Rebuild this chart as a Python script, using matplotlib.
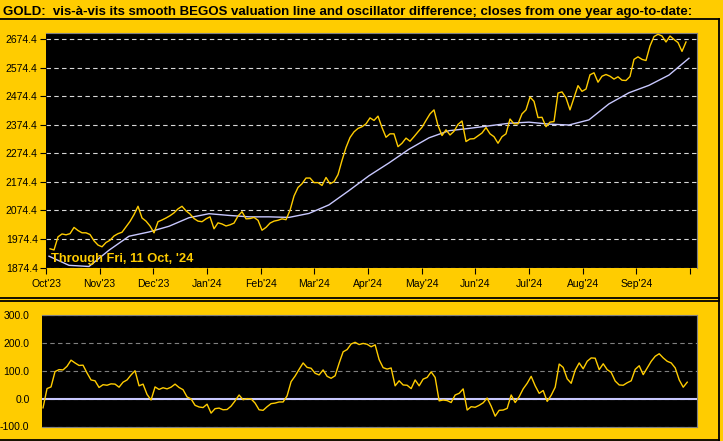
import numpy as np
import matplotlib.pyplot as plt
from matplotlib import font_manager
from matplotlib.lines import Line2D

plt.rcParams.update({'font.family': ['Liberation Sans', 'DejaVu Sans']})

months = ["Oct'23", "Nov'23", "Dec'23", "Jan'24", "Feb'24", "Mar'24", "Apr'24",
          "May'24", "Jun'24", "Jul'24", "Aug'24", "Sep'24", ""]

# gold closes (roughly every couple of sessions)
gold = [1940, 1936, 1982, 1992, 1989, 1993, 2015, 2004, 1996, 1996,
        1990, 1968, 1953, 1947, 1962, 1970, 1985, 1993, 1998, 2017,
        2036, 2060, 2089, 2048, 2037, 2020, 1996, 2035, 2041, 2048,
        2056, 2066, 2080, 2089, 2073, 2062, 2046, 2037, 2035, 2045,
        2052, 2010, 2031, 2027, 2020, 2024, 2030, 2055, 2070, 2045,
        2046, 2050, 2040, 2005, 2015, 2030, 2037, 2040, 2045, 2042,
        2075, 2125, 2155, 2168, 2188, 2188, 2172, 2172, 2162, 2190,
        2168, 2175, 2200, 2250, 2295, 2330, 2350, 2362, 2368, 2378,
        2399, 2390, 2405, 2365, 2331, 2343, 2343, 2298, 2310, 2328,
        2317, 2333, 2350, 2366, 2390, 2413, 2427, 2372, 2337, 2357,
        2339, 2352, 2376, 2388, 2316, 2325, 2326, 2336, 2346, 2365,
        2343, 2333, 2310, 2333, 2343, 2395, 2378, 2378, 2413, 2427,
        2472, 2457, 2400, 2401, 2368, 2384, 2386, 2486, 2490, 2469,
        2427, 2469, 2512, 2492, 2500, 2550, 2557, 2524, 2545, 2551,
        2545, 2535, 2543, 2531, 2530, 2544, 2604, 2613, 2604, 2600,
        2651, 2684, 2692, 2686, 2665, 2686, 2674, 2663, 2632, 2665]

# smooth BEGOS valuation line
begos = [1914, 1882, 1878, 1935, 1984, 1999, 2019, 2049, 2063, 2057,
         2052, 2052, 2050, 2064, 2094, 2144, 2196, 2241, 2289, 2329,
         2354, 2362, 2371, 2380, 2384, 2377, 2374, 2392, 2448, 2487,
         2513, 2549, 2608]

# oscillator (price minus valuation)
osc = [-33, 36, 42, 97, 104, 103, 116, 138, 128, 119,
       120, 92, 67, 64, 40, 50, 48, 53, 52, 41,
       59, 67, 85, 100, 46, 52, 15, -5, 42, 33,
       39, 35, 41, 52, 40, 32, 6, -1, -24, -30,
       -32, -20, -52, -36, -34, -40, -39, -27, -8, 13,
       -4, 0, -1, -16, -40, -42, -29, -18, -16, -12,
       -12, 10, 61, 81, 105, 128, 112, 109, 91, 85,
       103, 80, 73, 82, 127, 168, 176, 196, 202, 194,
       198, 195, 186, 193, 140, 111, 106, 110, 46, 64,
       49, 48, 36, 67, 46, 70, 76, 96, 76, -8,
       -5, -7, -14, 13, 19, 35, -41, -29, -31, -24,
       -15, 2, -27, -63, -42, -41, -35, 13, -14, 7,
       35, 55, 80, 46, 19, 29, -10, 12, 41, 124,
       112, 71, 55, 102, 128, 107, 134, 146, 145, 104,
       125, 104, 94, 63, 49, 48, 57, 64, 105, 118,
       86, 110, 134, 152, 161, 146, 134, 128, 110, 67,
       41, 59]

price_ticks = [1874.4, 1974.4, 2074.4, 2174.4, 2274.4, 2374.4, 2474.4, 2574.4, 2674.4]
osc_ticks = [-100, 0, 100, 200, 300]

YELLOW = '#FFCC00'
LAVENDER = '#C8C8FF'
W, H = 723, 441

# a narrow face if one is installed, otherwise a smaller regular one
narrow = dict(family=['Liberation Sans', 'DejaVu Sans'], size=9.3, title=9.55)
for f in font_manager.fontManager.ttflist:
    if f.name == 'Liberation Sans Narrow':
        narrow = dict(family=['Liberation Sans Narrow', 'DejaVu Sans'], size=11, title=11)
        break

fig = plt.figure(figsize=(W / 100, H / 100), dpi=100, facecolor=YELLOW)


def px_axes(x0, y0, x1, y1):
    return fig.add_axes([x0 / W, 1 - y1 / H, (x1 - x0) / W, (y1 - y0) / H])


# ---- price panel
ax = px_axes(46, 33, 697, 267.5)
ax.set_facecolor('black')
ax.set_xlim(0, 12.13)
ax.set_ylim(1874.4, 2696.5)

gx = np.linspace(0.075, 11.925, len(gold))
bx = np.linspace(0.056, 11.98, len(begos))
ax.plot(bx, begos, color=LAVENDER, lw=1.0, zorder=3)
ax.plot(gx, gold, color=YELLOW, lw=1.0, zorder=4)

ax.set_yticks(price_ticks)
ax.set_yticklabels([f'{v:.1f}' for v in price_ticks])
ax.set_xticks(range(13))
ax.set_xticklabels(months)
ax.yaxis.grid(True, linestyle=(0, (4, 3)), color='#D8D8D8', lw=0.8)
ax.tick_params(axis='both', direction='out', length=4, width=0.8, colors='black', labelsize=7.5)
ax.tick_params(axis='y', pad=2)
ax.tick_params(axis='x', pad=4)
for s in ['top', 'right']:
    ax.spines[s].set_color('#808080')
for s in ['left', 'bottom']:
    ax.spines[s].set_visible(False)

ax.text(0.0077, 0.022, "Through Fri, 11 Oct, '24", transform=ax.transAxes,
        color=YELLOW, fontsize=narrow['size'], fontweight='bold', va='baseline',
        zorder=6, family=narrow['family'])

# ---- oscillator panel
ax2 = px_axes(42, 315, 697, 426.5)
ax2.set_facecolor('black')
ax2.set_xlim(0, 12.2)
ax2.set_ylim(-100, 300)
ox = np.linspace(0.019, 12.018, len(osc))
ax2.axhline(0, color=LAVENDER, lw=1.5, zorder=3)
ax2.plot(ox, osc, color=YELLOW, lw=1.0, zorder=4)
ax2.set_yticks(osc_ticks)
ax2.set_yticklabels([f'{v:.1f}' for v in osc_ticks])
ax2.set_xticks([])
ax2.yaxis.grid(True, linestyle=(0, (4, 3)), color='#808080', lw=0.8)
ax2.tick_params(axis='y', length=0, pad=9, labelsize=7.5, colors='black')
for s in ['top', 'right', 'bottom']:
    ax2.spines[s].set_color('#808080')
ax2.spines['left'].set_visible(False)

# ---- title and frame lines
fig.text(3 / W, 1 - 15 / H,
         'GOLD:  vis-à-vis its smooth BEGOS valuation line and oscillator difference; closes from one year ago-to-date:',
         fontsize=narrow['title'], fontweight='bold', va='baseline', color='black',
         family=narrow['family'])

for yy in [19, 298, 301, 440]:
    fig.add_artist(Line2D([0, 719 / W], [1 - yy / H] * 2, color='black', lw=1.3))
fig.add_artist(Line2D([718.5 / W] * 2, [1 - 19 / H, 0], color='black', lw=1.3))

fig.savefig('out.png', dpi=100, facecolor=YELLOW)
